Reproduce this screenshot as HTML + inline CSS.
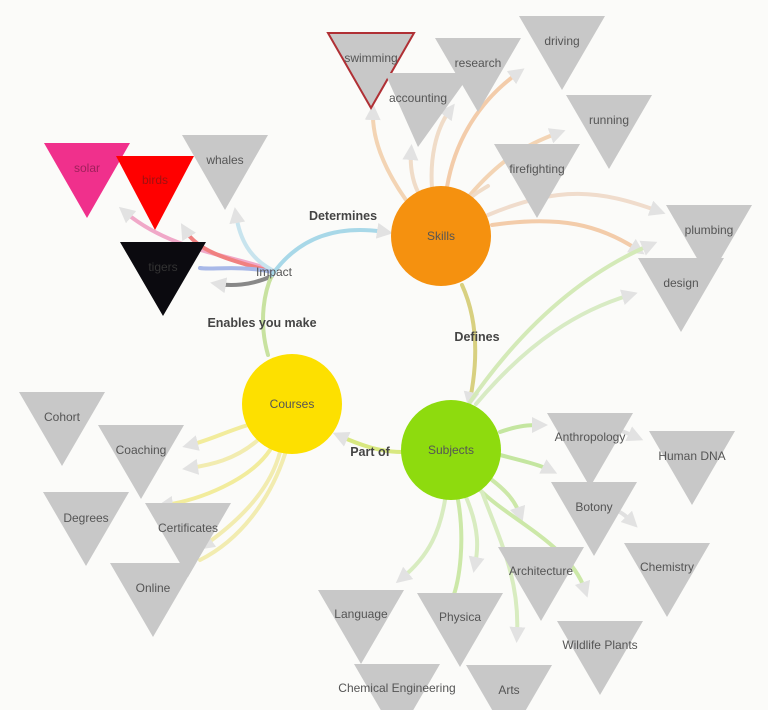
<!DOCTYPE html>
<html><head><meta charset="utf-8"><style>
html,body{margin:0;padding:0;background:#fbfbf9;}
svg{display:block;font-family:"Liberation Sans",sans-serif;}
.t{fill:#c8c8c8}
.l{font-size:12px;fill:#555;text-anchor:middle}
.b{font-size:12.5px;font-weight:bold;fill:#444;text-anchor:middle}
</style></head><body>
<svg width="768" height="710" viewBox="0 0 768 710" xmlns="http://www.w3.org/2000/svg">
<defs>
<marker id="a" markerWidth="4" markerHeight="4" refX="2" refY="2" orient="auto" markerUnits="strokeWidth"><path d="M0,0 L4,2 L0,4 z" fill="#e2e2e2"/></marker>
</defs>
<!-- connectors -->
<g fill="none" stroke-width="4" stroke-linecap="round">
<!-- impact -->
<path d="M272,270 C230,255 170,250 125,212" stroke="#f0a8c8" marker-end="url(#a)"/>
<path d="M272,272 C240,262 200,255 185,230" stroke="#f08080" marker-end="url(#a)"/>
<path d="M272,270 C250,258 240,240 236,215" stroke="#c8e4ee" marker-end="url(#a)"/>
<path d="M272,272 C240,265 210,270 200,268" stroke="#a8b8e8"/>
<path d="M272,276 C250,286 230,286 218,284" stroke="#888" marker-end="url(#a)"/>
<path d="M268,355 C258,320 265,290 272,275" stroke="#c8e2a0"/>
<path d="M272,275 C300,235 340,225 385,232" stroke="#a8d8e8" marker-end="url(#a)"/>
<!-- skills -->
<path d="M406,200 C385,170 372,140 373,112" stroke="#f3d4b4" marker-end="url(#a)"/>
<path d="M418,192 C412,180 410,165 411,152" stroke="#f0dcc8" marker-end="url(#a)"/>
<path d="M432,188 C430,160 435,130 450,110" stroke="#f0dcc8" marker-end="url(#a)"/>
<path d="M447,187 C455,140 480,100 518,73" stroke="#f3ccaa" marker-end="url(#a)"/>
<path d="M470,195 C500,160 525,145 558,133" stroke="#f3d4b4" marker-end="url(#a)"/>
<path d="M470,198 C480,190 485,188 488,186" stroke="#f0dcc8"/>
<path d="M488,215 C560,185 600,190 658,211" stroke="#f0dccc" marker-end="url(#a)"/>
<path d="M492,225 C560,215 600,225 638,250" stroke="#f3ccaa" marker-end="url(#a)"/>
<path d="M462,285 C478,320 478,360 470,400" stroke="#d8d080" marker-end="url(#a)"/>
<!-- subjects up -->
<path d="M470,402 C520,330 580,275 650,245" stroke="#d4eab8" marker-end="url(#a)"/>
<path d="M476,404 C530,340 580,310 630,295" stroke="#d8ebc4" marker-end="url(#a)"/>
<!-- part of -->
<path d="M402,452 C380,452 360,445 340,436" stroke="#d8e880" marker-end="url(#a)"/>
<!-- subjects out -->
<path d="M500,432 C520,425 530,425 540,425" stroke="#c4e6a0" marker-end="url(#a)"/>
<path d="M600,425 C615,428 625,432 636,437" stroke="#e0e0e0" marker-end="url(#a)"/>
<path d="M500,455 C520,460 540,465 550,470" stroke="#c4e6a0" marker-end="url(#a)"/>
<path d="M615,510 C622,512 628,518 632,522" stroke="#e0e0e0" marker-end="url(#a)"/>
<path d="M492,480 C505,490 515,500 520,515" stroke="#cce8a8" marker-end="url(#a)"/>
<path d="M480,490 C510,520 570,545 585,590" stroke="#cce8a8" marker-end="url(#a)"/>
<path d="M482,492 C500,540 520,580 517,635" stroke="#d8ecc0" marker-end="url(#a)"/>
<path d="M466,497 C480,530 478,550 475,565" stroke="#d8ecc0" marker-end="url(#a)"/>
<path d="M458,500 C465,540 460,580 452,600" stroke="#cce8a8"/>
<path d="M445,500 C440,530 430,555 402,578" stroke="#d8ecc0" marker-end="url(#a)"/>
<!-- courses -->
<path d="M248,425 C225,432 210,440 190,445" stroke="#f2ec9c" marker-end="url(#a)"/>
<path d="M258,440 C235,460 210,465 190,468" stroke="#f2ecb0" marker-end="url(#a)"/>
<path d="M270,450 C250,480 200,500 165,505" stroke="#f2ec9c" marker-end="url(#a)"/>
<path d="M280,452 C270,490 240,520 205,545" stroke="#f2ecb0" marker-end="url(#a)"/>
<path d="M285,454 C270,500 240,540 200,560" stroke="#f2ecb0"/>
</g>
<!-- circles -->
<circle cx="441" cy="236" r="50" fill="#f5910f"/>
<circle cx="451" cy="450" r="50" fill="#8edb0e"/>
<circle cx="292" cy="404" r="50" fill="#fde000"/>
<text x="441" y="240" class="l">Skills</text>
<text x="451" y="454" class="l">Subjects</text>
<text x="292" y="408" class="l">Courses</text>
<text x="274" y="276" class="l">Impact</text>
<!-- edge labels -->
<text x="343" y="220" class="b">Determines</text>
<text x="262" y="327" class="b">Enables you make</text>
<text x="477" y="341" class="b">Defines</text>
<text x="370" y="456" class="b">Part of</text>
<!-- triangles -->
<g>
<polygon points="44,143 130,143 87,218" fill="#f0308c"/><text x="87" y="172" class="l" fill="#a0205c" style="fill:#a0205c">solar</text>
<polygon points="116,156 194,156 155,230" fill="#ff0000"/><text x="155" y="184" class="l" style="fill:#a01010">birds</text>
<polygon points="182,135 268,135 225,210" class="t"/><text x="225" y="164" class="l">whales</text>
<polygon points="120,242 206,242 163,316" fill="#0b0a0f"/><text x="163" y="271" class="l" style="fill:#333">tigers</text>
<polygon points="328,33 414,33 371,108" class="t" stroke="#b03035" stroke-width="2"/><text x="371" y="62" class="l">swimming</text>
<polygon points="385,73 471,73 418,147" class="t"/><text x="418" y="102" class="l">accounting</text>
<polygon points="435,38 521,38 478,112" class="t"/><text x="478" y="67" class="l">research</text>
<polygon points="519,16 605,16 562,90" class="t"/><text x="562" y="45" class="l">driving</text>
<polygon points="566,95 652,95 609,169" class="t"/><text x="609" y="124" class="l">running</text>
<polygon points="494,144 580,144 537,218" class="t"/><text x="537" y="173" class="l">firefighting</text>
<polygon points="666,205 752,205 709,279" class="t"/><text x="709" y="234" class="l">plumbing</text>
<polygon points="638,258 724,258 681,332" class="t"/><text x="681" y="287" class="l">design</text>
<polygon points="19,392 105,392 62,466" class="t"/><text x="62" y="421" class="l">Cohort</text>
<polygon points="98,425 184,425 141,499" class="t"/><text x="141" y="454" class="l">Coaching</text>
<polygon points="43,492 129,492 86,566" class="t"/><text x="86" y="522" class="l">Degrees</text>
<polygon points="145,503 231,503 188,577" class="t"/><text x="188" y="532" class="l">Certificates</text>
<polygon points="110,563 196,563 153,637" class="t"/><text x="153" y="592" class="l">Online</text>
<polygon points="547,413 633,413 590,487" class="t"/><text x="590" y="441" class="l">Anthropology</text>
<polygon points="649,431 735,431 692,505" class="t"/><text x="692" y="460" class="l">Human DNA</text>
<polygon points="551,482 637,482 594,556" class="t"/><text x="594" y="511" class="l">Botony</text>
<polygon points="624,543 710,543 667,617" class="t"/><text x="667" y="571" class="l">Chemistry</text>
<polygon points="498,547 584,547 541,621" class="t"/><text x="541" y="575" class="l">Architecture</text>
<polygon points="557,621 643,621 600,695" class="t"/><text x="600" y="649" class="l">Wildlife Plants</text>
<polygon points="318,590 404,590 361,664" class="t"/><text x="361" y="618" class="l">Language</text>
<polygon points="417,593 503,593 460,667" class="t"/><text x="460" y="621" class="l">Physica</text>
<polygon points="354,664 440,664 397,738" class="t"/><text x="397" y="692" class="l">Chemical Engineering</text>
<polygon points="466,665 552,665 509,739" class="t"/><text x="509" y="694" class="l">Arts</text>
</g>
</svg>
</body></html>
